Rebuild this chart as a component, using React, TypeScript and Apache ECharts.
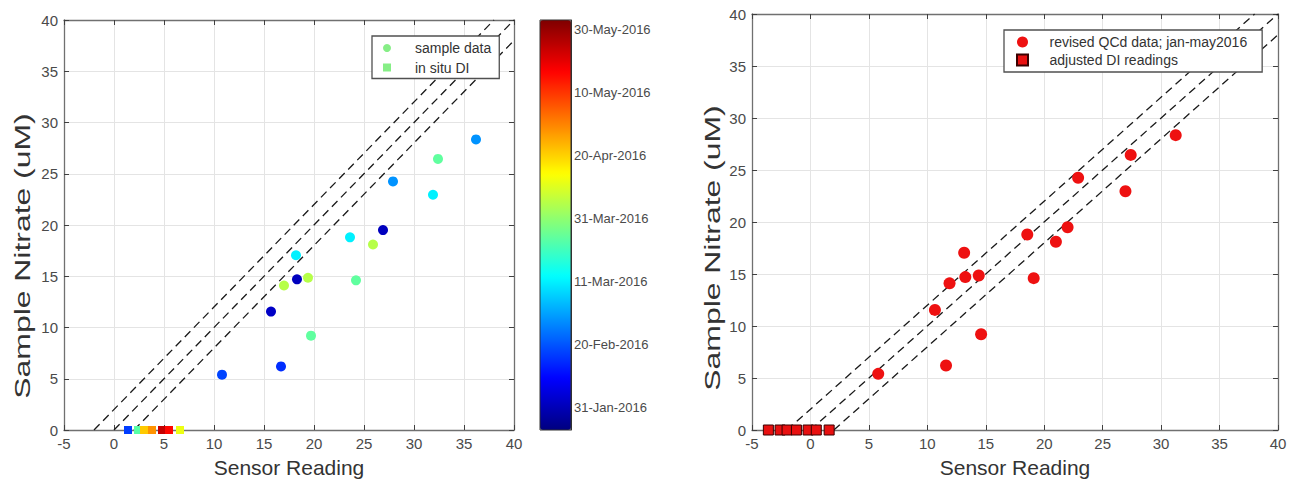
import React, { useEffect, useRef } from 'react';
import * as echarts from 'echarts';

// ---------- data ----------
const sampleNitrate = [5.4, 11.55, 6.2, 14.1, 17.05, 14.7, 14.85, 9.2, 18.8, 14.6, 18.1, 19.5, 24.25, 22.95, 26.45, 28.35];
const sensorRaw = [10.8, 15.7, 16.7, 17.0, 18.2, 18.3, 19.4, 19.7, 23.6, 24.2, 25.9, 26.9, 27.9, 31.9, 32.4, 36.2];
const sensorRevised = [5.8, 10.65, 11.6, 11.9, 13.15, 13.25, 14.4, 14.6, 18.55, 19.1, 21.0, 22.0, 22.9, 26.95, 27.4, 31.25];
const sampleDates = ['2016-02-18', '2016-02-02', '2016-02-15', '2016-04-05', '2016-03-11', '2016-02-01', '2016-04-05', '2016-03-25', '2016-03-11', '2016-03-25', '2016-04-05', '2016-02-01', '2016-02-28', '2016-03-11', '2016-03-25', '2016-02-28'];

const diRaw = [1.4, 2.4, 3.0, 3.8, 4.8, 5.5, 6.6];
const diAdjusted = [-3.6, -2.6, -2.0, -1.2, -0.2, 0.5, 1.6];
const diNitrate = [0, 0, 0, 0, 0, 0, 0];
const diDates = ['2016-02-17', '2016-03-24', '2016-04-21', '2016-04-28', '2016-05-24', '2016-05-16', '2016-04-12'];

const refLineOffsets = [2, 0, -2];

const colorbarMin = '2016-01-24';
const colorbarMax = '2016-06-02';
const colorbarTicks = ['2016-01-31', '2016-02-20', '2016-03-11', '2016-03-31', '2016-04-20', '2016-05-10', '2016-05-30'];

const xTickRange = { min: -5, max: 40, interval: 5 };
const yTickRange = { min: 0, max: 40, interval: 5 };

// ---------- helpers ----------
const FONT = '"Liberation Sans", Arial, Helvetica, sans-serif';
const MONTHS = ['Jan', 'Feb', 'Mar', 'Apr', 'May', 'Jun', 'Jul', 'Aug', 'Sep', 'Oct', 'Nov', 'Dec'];
const BASE = Date.UTC(2016, 0, 1);
const dayNum = (iso: string) => {
  const [y, m, d] = iso.split('-').map(Number);
  return Math.round((Date.UTC(y, m - 1, d) - BASE) / 86400000);
};
const fmtDay = (v: number) => {
  const dt = new Date(BASE + Math.round(v) * 86400000);
  const dd = String(dt.getUTCDate()).padStart(2, '0');
  return `${dd}-${MONTHS[dt.getUTCMonth()]}-${dt.getUTCFullYear()}`;
};
const refLine = (o: number) => {
  const x0 = Math.max(xTickRange.min, yTickRange.min - o);
  const x1 = Math.min(xTickRange.max, yTickRange.max - o);
  return [[x0, x0 + o], [x1, x1 + o]];
};

const JET = ['#00007F', '#0000FF', '#007FFF', '#00FFFF', '#7FFF7F', '#FFFF00', '#FF7F00', '#FF0000', '#7F0000'];
const SQUARE_ICON = 'path://M0 0H10V10H0Z';

const frameColor = '#707070';
const tickColor = '#404040';
const gridColor = '#e4e4e4';
const labelStyle = { fontFamily: FONT, fontSize: 15, color: '#4a4a4a' };

function mainAxis(gridIndex: number, position: string, range: any, primary: boolean, extra: any = {}) {
  return {
    gridIndex,
    type: 'value',
    position,
    min: range.min,
    max: range.max,
    interval: range.interval,
    axisLine: { show: true, onZero: false, lineStyle: { color: frameColor, width: 1.3 } },
    axisTick: { show: true, inside: true, length: 5, lineStyle: { color: tickColor } },
    axisLabel: primary ? { ...labelStyle, margin: 6 } : { show: false },
    splitLine: primary ? { show: true, lineStyle: { color: gridColor, width: 1 } } : { show: false },
    ...extra,
  };
}

const xName = {
  name: 'Sensor Reading',
  nameLocation: 'middle',
  nameGap: 27,
  nameTextStyle: { fontFamily: FONT, fontSize: 21, color: '#333' },
};

const dashStyle = { color: '#1a1a1a', width: 1.3, type: [8, 5] };

function lineSeries(xi: number) {
  return refLineOffsets.map((o) => ({
    type: 'line',
    xAxisIndex: xi,
    yAxisIndex: xi,
    data: refLine(o),
    symbol: 'none',
    silent: true,
    lineStyle: dashStyle,
    z: 2,
  }));
}

const cbTickDays = colorbarTicks.map(dayNum);

const legendBase = {
  orient: 'vertical',
  backgroundColor: '#ffffff',
  borderColor: '#505050',
  borderWidth: 1.3,
  borderRadius: 0,
  selectedMode: false,
  z: 10,
  textStyle: { fontFamily: FONT, fontSize: 14, color: '#333', lineHeight: 16 },
};

const yNameStyle = { text: 'Sample Nitrate (uM)', fontFamily: FONT, fontSize: 22, fill: '#333', align: 'center', verticalAlign: 'middle' };

const option: any = {
  animation: false,
  backgroundColor: '#ffffff',
  grid: [
    { left: 64, top: 20, width: 450, height: 410 },
    { left: 752, top: 14, width: 526, height: 416 },
    { left: 540, top: 20, width: 31, height: 410 },
  ],
  xAxis: [
    mainAxis(0, 'bottom', xTickRange, true, xName),
    mainAxis(0, 'top', xTickRange, false),
    mainAxis(1, 'bottom', xTickRange, true, xName),
    mainAxis(1, 'top', xTickRange, false),
    { gridIndex: 2, type: 'value', show: false, min: 0, max: 1 },
  ],
  yAxis: [
    mainAxis(0, 'left', yTickRange, true),
    mainAxis(0, 'right', yTickRange, false),
    mainAxis(1, 'left', yTickRange, true),
    mainAxis(1, 'right', yTickRange, false),
    {
      gridIndex: 2,
      type: 'value',
      position: 'right',
      min: dayNum(colorbarMin),
      max: dayNum(colorbarMax),
      axisLine: { show: true, onZero: false, lineStyle: { color: '#333', width: 1 } },
      axisTick: { show: true, inside: true, length: 4, customValues: cbTickDays, lineStyle: { color: '#333' } },
      axisLabel: { customValues: cbTickDays, formatter: (v: number) => fmtDay(v), fontFamily: FONT, fontSize: 13, color: '#4a4a4a', margin: 3 },
      splitLine: { show: false },
    },
  ],
  visualMap: {
    type: 'continuous',
    seriesIndex: [0, 1],
    dimension: 2,
    min: dayNum(colorbarMin),
    max: dayNum(colorbarMax),
    inRange: { color: JET },
    calculable: false,
    hoverLink: false,
    left: 540,
    top: 20,
    itemWidth: 31,
    itemHeight: 410,
    padding: 0,
    orient: 'vertical',
  },
  legend: [
    {
      ...legendBase,
      data: [{ name: 'sample data', icon: 'circle' }, { name: 'in situ DI', icon: SQUARE_ICON }],
      left: 372,
      top: 36,
      padding: [4, 8, 3, 11],
      itemWidth: 46,
      itemHeight: 8,
      itemGap: 3.5,
    },
    {
      ...legendBase,
      data: [{ name: 'revised QCd data; jan-may2016', icon: 'circle' }, { name: 'adjusted DI readings', icon: SQUARE_ICON }],
      left: 1004,
      top: 30,
      padding: [4, 15, 4, 12],
      itemWidth: 44,
      itemHeight: 11,
      itemGap: 2,
    },
  ],
  graphic: [
    { type: 'text', x: 22, y: 256, rotation: Math.PI / 2, scaleX: 1.45, style: yNameStyle },
    { type: 'text', x: 712, y: 248, rotation: Math.PI / 2, scaleX: 1.45, style: yNameStyle },
    {
      type: 'rect',
      z: 100,
      shape: { x: 540, y: 20, width: 31, height: 410 },
      style: { fill: 'none', stroke: '#333', lineWidth: 1 },
      silent: true,
    },
  ],
  series: [
    {
      name: 'sample data',
      type: 'scatter',
      xAxisIndex: 0,
      yAxisIndex: 0,
      symbol: 'circle',
      symbolSize: 10,
      itemStyle: { color: '#86EE86', opacity: 1 },
      data: sensorRaw.map((x, i) => [x, sampleNitrate[i], dayNum(sampleDates[i])]),
      z: 2,
    },
    {
      name: 'in situ DI',
      type: 'scatter',
      xAxisIndex: 0,
      yAxisIndex: 0,
      symbol: 'rect',
      symbolSize: 8,
      itemStyle: { color: '#86EE86', opacity: 1 },
      data: diRaw.map((x, i) => [x, diNitrate[i], dayNum(diDates[i])]),
      clip: false,
      z: 2,
    },
    ...lineSeries(0),
    {
      name: 'revised QCd data; jan-may2016',
      type: 'scatter',
      xAxisIndex: 2,
      yAxisIndex: 2,
      symbol: 'circle',
      symbolSize: 12,
      itemStyle: { color: '#EE1111', opacity: 1 },
      data: sensorRevised.map((x, i) => [x, sampleNitrate[i]]),
      z: 2,
    },
    {
      name: 'adjusted DI readings',
      type: 'scatter',
      xAxisIndex: 2,
      yAxisIndex: 2,
      symbol: 'rect',
      symbolSize: 10,
      itemStyle: { color: '#E81010', borderColor: '#3a0000', borderWidth: 1, opacity: 1 },
      data: diAdjusted.map((x, i) => [x, diNitrate[i]]),
      clip: false,
      z: 2,
    },
    ...lineSeries(2),
  ],
};

export default function App() {
  const ref = useRef<HTMLDivElement>(null);
  useEffect(() => {
    const chart = echarts.init(ref.current!, null, { renderer: 'svg' });
    chart.setOption(option);
    return () => chart.dispose();
  }, []);
  return (
    <div
      ref={ref}
      style={{ position: 'absolute', left: 0, top: 0, width: 1296, height: 485, background: '#fff' }}
    />
  );
}
